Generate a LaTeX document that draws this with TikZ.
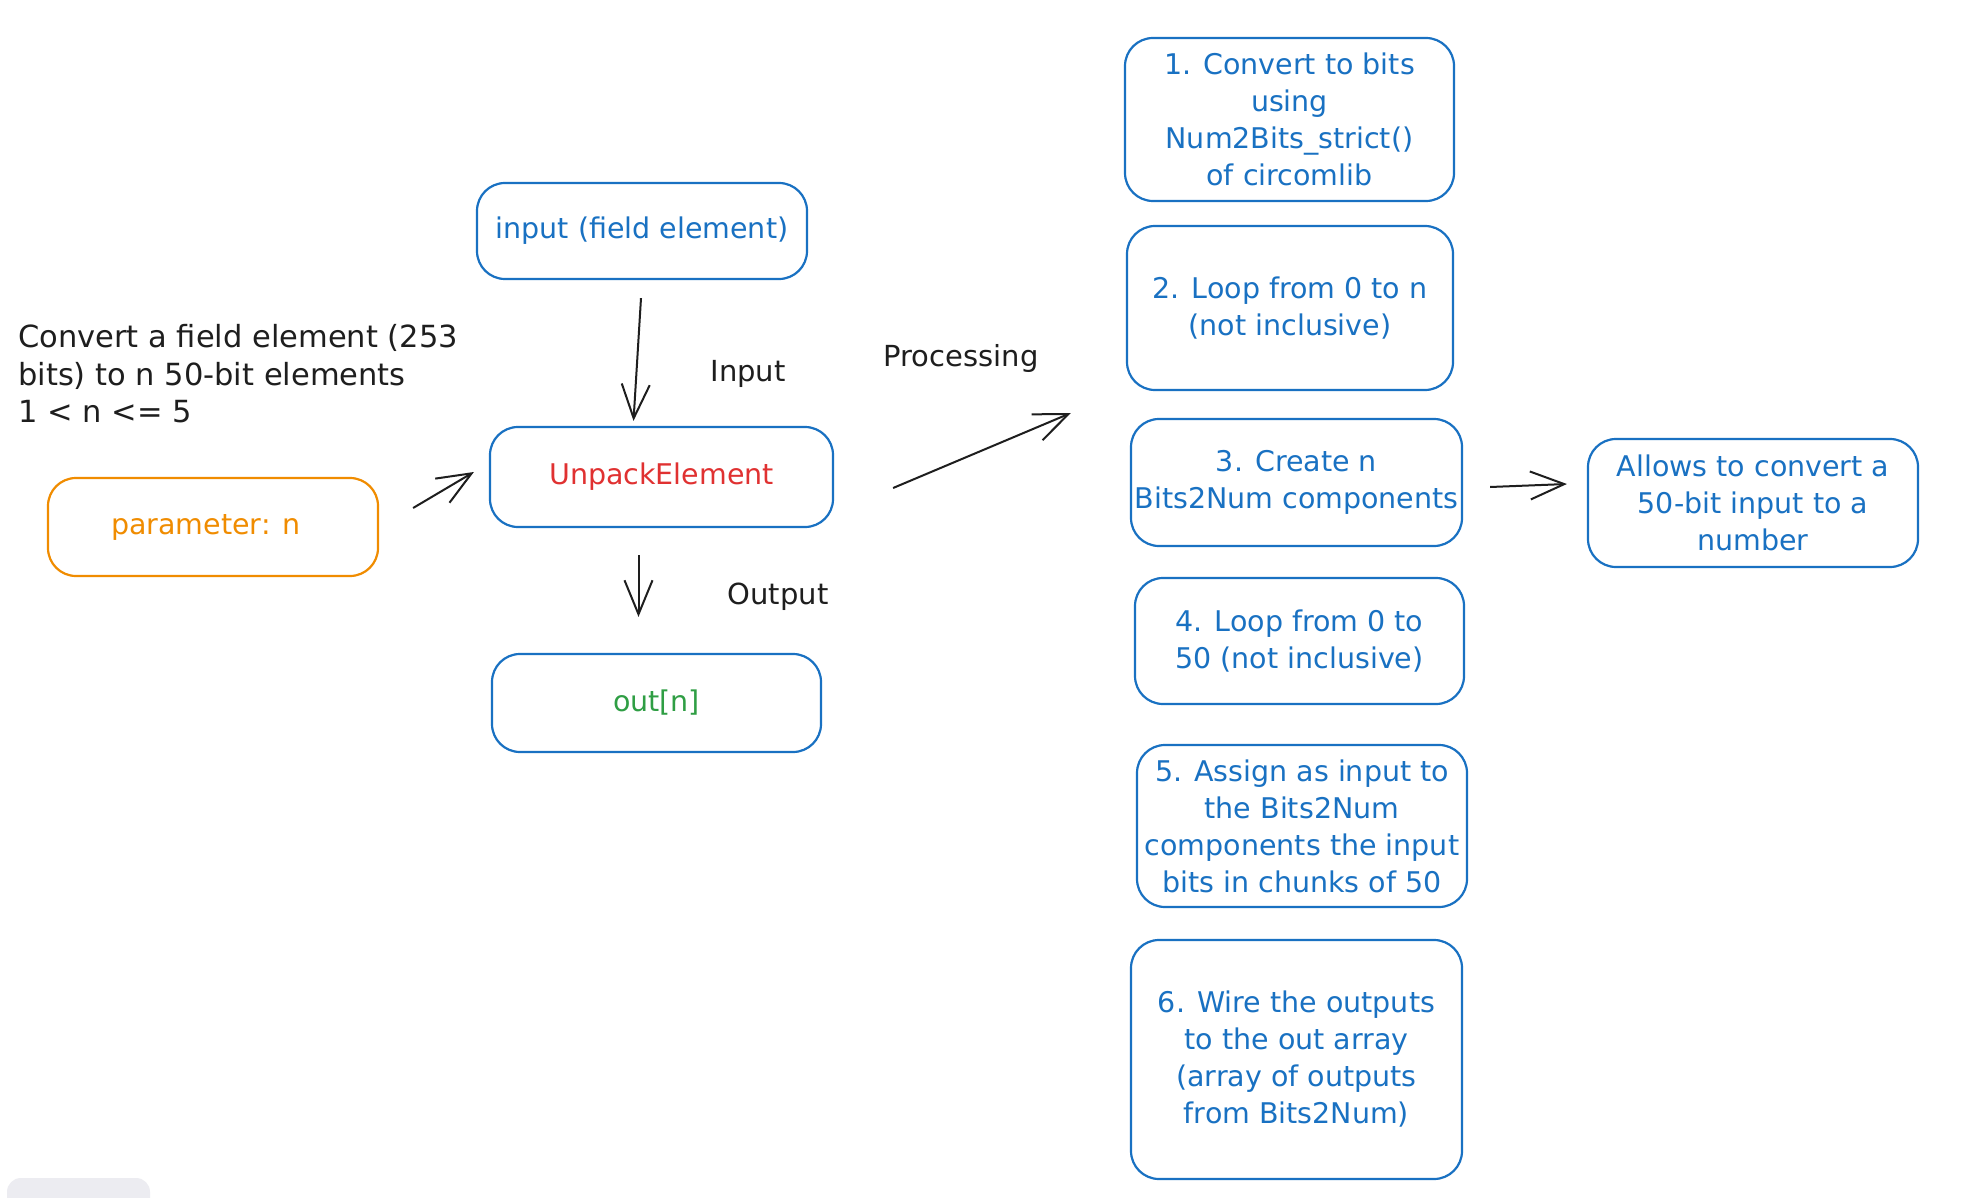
\documentclass[tikz,border=0pt]{standalone}
\usepackage{fontspec}
\setmainfont{DejaVu Sans}
\usetikzlibrary{arrows.meta}
\definecolor{exblue}{HTML}{1971C2}
\definecolor{exred}{HTML}{E03131}
\definecolor{exgreen}{HTML}{2F9E44}
\definecolor{exorange}{HTML}{F08C00}
\definecolor{exblack}{HTML}{1E1E1E}
\definecolor{exgrey}{HTML}{ECECF1}
\tikzset{
  sbox/.style={draw=exblue, line width=2.2pt, rounded corners=28pt, align=center,
    inner sep=0pt, font=\fontsize{28.5}{37}\selectfont, text=exblue},
  obox/.style={sbox, draw=exorange, text=exorange},
  lbl/.style={font=\fontsize{29}{37.5}\selectfont, text=exblack, inner sep=0pt},
  arr/.style={draw=exblack, line width=2pt, -{Straight Barb[length=34pt,width=28pt,line width=2pt]}},
}
\begin{document}
\begin{tikzpicture}[x=1pt,y=-1pt]
\useasboundingbox (0,0) rectangle (1962,1198);
\fill[white] (0,0) rectangle (1962,1198);
\begin{scope}
\clip (0,0) rectangle (1962,1198);
\fill[exgrey, rounded corners=14pt] (7,1178) rectangle (150,1230);
\end{scope}

% left text
\node[lbl, anchor=west, align=left, font=\fontsize{30.5}{37.5}\selectfont] (desc) at (18,374) {Convert a field element (253\\bits) to n 50-bit elements\\1 < n <= 5};

% main column
\node[sbox, minimum width=330pt, minimum height=96pt] (input) at (642,231) {input (field element)};
\node[sbox, minimum width=343pt, minimum height=100pt, text=exred] (unpack) at (661.5,477) {UnpackElement};
\node[sbox, minimum width=329pt, minimum height=98pt, text=exgreen] (out) at (656.5,703) {out[n]};
\node[obox, minimum width=330pt, minimum height=98pt] (param) at (213,527) {\raisebox{-4pt}{parameter: n}\hspace*{14pt}};

\node[lbl] (inlbl) at (748,374) {Input};
\node[lbl] (outlbl) at (778,597) {Output};
\node[lbl] (proclbl) at (961,358) {Processing};

% right column
\node[sbox, minimum width=329pt, minimum height=163pt] (s1) at (1289.5,119.5) {1. Convert to bits\\using\\Num2Bits\_strict()\\of circomlib};
\node[sbox, minimum width=326pt, minimum height=164pt] (s2) at (1290,308) {2. Loop from 0 to n\\(not inclusive)};
\node[sbox, minimum width=331pt, minimum height=127pt] (s3) at (1296.5,482.5) {3. Create n\\Bits2Num components};
\node[sbox, minimum width=329pt, minimum height=126pt] (s4) at (1299.5,641) {4. Loop from 0 to\\50 (not inclusive)};
\node[sbox, minimum width=330pt, minimum height=162pt] (s5) at (1302,826) {5. Assign as input to\\the Bits2Num\\components the input\\bits in chunks of 50};
\node[sbox, minimum width=331pt, minimum height=239pt] (s6) at (1296.5,1059.5) {6. Wire the outputs\\to the out array\\(array of outputs\\from Bits2Num)};
\node[sbox, minimum width=330pt, minimum height=128pt] (allows) at (1753,503) {Allows to convert a\\50-bit input to a\\number};

% connectors
\coordinate (pa) at ([xshift=34pt,yshift=19pt]param.east);
\coordinate (pb) at ([xshift=-15pt,yshift=5pt]unpack.west);
\draw[arr] (pa) -- (pb);

\coordinate (ia) at ([xshift=-1pt,yshift=-18pt]input.south);
\coordinate (ib) at ([xshift=-28pt,yshift=5pt]unpack.north);
\draw[arr] (ia) -- (ib);

\coordinate (oa) at ([xshift=-23pt,yshift=-27pt]unpack.south);
\coordinate (ob) at ([xshift=-18pt,yshift=36pt]out.north);
\draw[arr] (oa) -- (ob);

\coordinate (qa) at ([xshift=59pt,yshift=-11pt]unpack.east);
\coordinate (qb) at ([xshift=-59pt,yshift=69.5pt]s3.west);
\draw[arr] (qa) -- (qb);

\coordinate (ra) at ([xshift=27pt,yshift=-4.5pt]s3.east);
\coordinate (rb) at ([xshift=-20pt,yshift=19pt]allows.west);
\draw[arr] (ra) -- (rb);
\end{tikzpicture}
\end{document}
